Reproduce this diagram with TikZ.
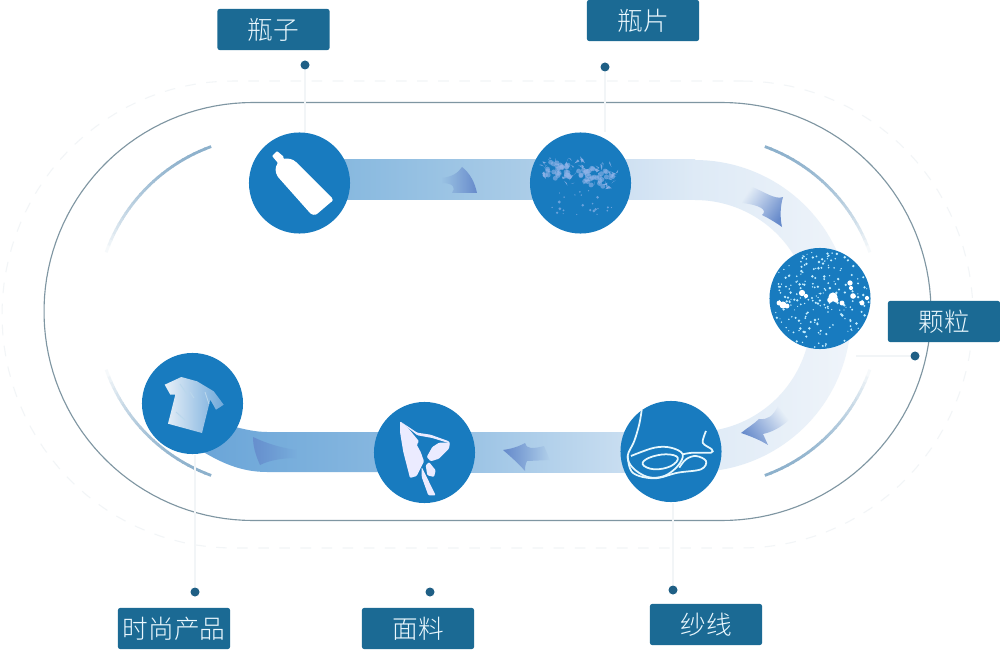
\documentclass[tikz,border=0pt]{standalone}
\usepackage{fontspec}
\usetikzlibrary{fadings}
\newfontfamily\cjk{Noto Sans CJK SC Light}
\definecolor{discblue}{HTML}{187BBF}
\definecolor{tagblue}{HTML}{1B6A94}
\definecolor{dotblue}{HTML}{1F5F85}
\definecolor{trackline}{HTML}{7F96A2}
\definecolor{faintline}{HTML}{F2F5F7}
\definecolor{arcblue}{HTML}{8DB1CC}
\definecolor{headblue}{HTML}{668ACB}
\definecolor{flakeblue}{HTML}{8FB3E8}
\definecolor{pelletblue}{HTML}{C4EEFF}
\definecolor{bandA}{RGB}{106,165,216}
\definecolor{bandB}{RGB}{141,187,225}
\definecolor{bandC}{RGB}{127,180,221}
\definecolor{bandD}{RGB}{181,210,234}
\definecolor{bandE}{RGB}{196,218,239}
\definecolor{bandF}{RGB}{222,234,246}
\definecolor{bandG}{RGB}{239,244,250}
\tikzset{
	stagedisc/.style={circle,fill=discblue,minimum size=1.01cm,inner sep=0pt},
	tagbox/.style={rectangle,rounded corners=0.6pt,fill=tagblue,text=white!92!cyan,minimum width=1.12cm,minimum height=0.41cm,inner sep=0pt,font=\fontsize{7.3pt}{8pt}\cjk},
	tagdot/.style={circle,fill=dotblue,minimum size=0.09cm,inner sep=0pt},
	leadline/.style={draw=faintline,line width=0.3pt},
	arcline/.style={line width=0.8pt},
	iconwhite/.style={fill=white!92!blue,rounded corners=0.3pt},
	yarn/.style={draw=white!90!cyan,line width=0.5pt}
}
\newcommand{\fadearc}[3]{%
	\foreach \t in {0,...,24}{
		\pgfmathsetmacro\angA{#2+(#3-#2)*\t/25}
		\pgfmathsetmacro\angB{#2+(#3-#2)*(\t+1.2)/25}
		\pgfmathsetmacro\mixv{max(3,100*(1-(\t/25)*(\t/25)))}
		\draw[arcline,draw=arcblue!\mixv!white] ({#1+175*cos(\angA)},{311-175*sin(\angA)}) -- ({#1+175*cos(\angB)},{311-175*sin(\angB)});
	}
}
\begin{document}
\begin{tikzpicture}[x=0.01cm,y=-0.01cm]
	\useasboundingbox (0,0) rectangle (1000,667);
	\fill[white] (0,0) rectangle (1000,667);
	\pgfmathsetseed{11}
	% faint outer track and the main track
	\draw[faintline,dashed,line width=0.3pt] plot[domain=90:-90,samples=60] ({742+231*cos(\x)},{314.5-233.5*sin(\x)}) -- plot[domain=270:90,samples=60] ({233+231*cos(\x)},{314.5-233.5*sin(\x)}) -- cycle;
	\draw[trackline,line width=0.32pt] plot[domain=90:-90,samples=70] ({722+209*cos(\x)},{311.5-209*sin(\x)}) -- plot[domain=270:90,samples=70] ({253+209*cos(\x)},{311.5-209*sin(\x)}) -- cycle;
	% four arcs inside the track
	\fadearc{705}{70}{20}
	\fadearc{705}{-70}{-20}
	\fadearc{271}{110}{160}
	\fadearc{271}{250}{200}
	% the band
	\shade[left color=bandC,right color=bandD] (300,160) rectangle (580,200);
	\shade[left color=bandE,right color=bandF] (580,160) rectangle (695,200);
	\shade[left color=bandF,right color=bandG] plot[domain=90:0,samples=40] ({695+156*cos(\x)},{316-156*sin(\x)}) -- plot[domain=0:90,samples=40] ({695+116*cos(\x)},{316-116*sin(\x)}) -- cycle;
	\shade[left color=bandF,right color=bandG] plot[domain=0:-90,samples=40] ({695+156*cos(\x)},{316-156*sin(\x)}) -- plot[domain=-90:0,samples=40] ({695+116*cos(\x)},{316-116*sin(\x)}) -- cycle;
	\shade[left color=bandB,right color=bandF] (424,432) rectangle (695,472);
	\shade[left color=bandA,right color=bandB] (200,420) .. controls (220,421) and (245,432) .. (267,432) -- (424,432) -- (424,472) -- (267,472) .. controls (240,472) and (220,462) .. (200,450) -- cycle;
	% arrows on the band
	\fill[headblue,path fading=west] (441,178) .. controls (452,177) and (458,173) .. (462,167) .. controls (470,173) and (475,183) .. (477,193) -- (452,193) .. controls (456,188) and (454,183) .. (441,183) -- cycle;
	\fill[headblue,path fading=west,fading angle=-35] (750,186) .. controls (765,192) and (775,200) .. (783,197) .. controls (780,207) and (780,218) .. (782,227) .. controls (775,222) and (768,218) .. (762,215) .. controls (768,210) and (760,205) .. (742,203) -- cycle;
	\fill[headblue,path fading=east,fading angle=32] (741,433) .. controls (747,428) and (754,424) .. (759,419) .. controls (768,420) and (773,416) .. (778,406) -- (789,420) .. controls (780,428) and (772,432) .. (763,434) -- (768,445) .. controls (760,440) and (750,436) .. (741,433) -- cycle;
	\fill[headblue,path fading=east] (503,450) .. controls (510,449) and (518,447) .. (525,443) .. controls (526,449) and (533,449) .. (544,446) -- (550,460) -- (527,461) .. controls (525,465) and (525,468) .. (525,471) .. controls (518,463) and (510,456) .. (503,450) -- cycle;
	\fill[headblue!80!bandA,path fading=east] (253,437) .. controls (262,441) and (275,447) .. (297,450) -- (297,458) .. controls (280,458) and (268,461) .. (260,465) .. controls (256,456) and (253,447) .. (253,437) -- cycle;
	% stages
	\node[stagedisc] (bottle) at (299.5,183) {};
	\node[stagedisc] (flakes) at (580.5,183) {};
	\node[stagedisc] (pellets) at (820,298.5) {};
	\node[stagedisc] (thread) at (671,451.5) {};
	\node[stagedisc] (cloth) at (424.5,452.5) {};
	\node[stagedisc] (shirt) at (192.5,403.5) {};
	% tags and dots
	\node[tagbox] (tagbottle) at (273.5,29.5) {瓶子};
	\node[tagbox] (tagflakes) at (643,20.5) {瓶片};
	\node[tagbox] (tagpellets) at (944,321.5) {颗粒};
	\node[tagbox] (tagthread) at (706,624.5) {纱线};
	\node[tagbox] (tagcloth) at (418,628.5) {面料};
	\node[tagbox] (tagshirt) at (174,628.5) {时尚产品};
	\node[tagdot] (dotbottle) at (305,65) {};
	\node[tagdot] (dotflakes) at (605,67) {};
	\node[tagdot] (dotpellets) at (915,356) {};
	\node[tagdot] (dotthread) at (673,590) {};
	\node[tagdot] (dotcloth) at (430,592) {};
	\node[tagdot] (dotshirt) at (195,592) {};
	\draw[leadline] (dotbottle) -- (dotbottle |- bottle.north);
	\draw[leadline] (dotflakes) -- (dotflakes |- flakes.north);
	\draw[leadline] (dotpellets) -- (pellets.south east |- dotpellets);
	\draw[leadline] (dotthread) -- (dotthread |- thread.south);
	\draw[leadline] (dotshirt) -- (dotshirt |- shirt.south);
	% bottle
	\fill[iconwhite,fill=white] (272,156) -- (277,151) -- (284,157) -- (283,159) .. controls (288,158) and (293,159) .. (297,163) -- (331,197) .. controls (333,199) and (333,201) .. (331,202) -- (317,214) .. controls (315,215) and (312,215) .. (310,213) -- (278,177) .. controls (275,172) and (275,167) .. (278,163) -- cycle;
	% flakes
	\foreach \i in {1,...,60}{
		\pgfmathsetmacro\fx{545+70*rnd}
		\pgfmathsetmacro\fy{160+18*rnd+(\fx-545)/70*12}
		\fill[flakeblue,fill opacity=0.6] (\fx,\fy) circle[radius=0.7pt];
	}
	\foreach \i in {1,...,70}{
		\pgfmathsetmacro\fx{543+75*rnd}
		\pgfmathsetmacro\fy{156+22*rnd+(\fx-543)/75*12}
		\pgfmathsetmacro\dxa{7*rnd-3.5}
		\pgfmathsetmacro\dya{9*rnd-4.5}
		\pgfmathsetmacro\dxb{7*rnd-3.5}
		\pgfmathsetmacro\dyb{7*rnd-3.5}
		\fill[flakeblue,fill opacity=0.85] (\fx,\fy) -- ++(\dxa,\dya) -- ++(\dxb,\dyb) -- cycle;
	}
	\foreach \i in {1,...,24}{
		\pgfmathsetmacro\fx{548+64*rnd}
		\pgfmathsetmacro\fy{190+26*rnd}
		\pgfmathsetmacro\szf{0.15+0.3*rnd}
		\fill[flakeblue!70!discblue] (\fx,\fy) circle[radius=\szf pt];
	}
	% pellets
	\foreach \i in {1,...,210}{
		\pgfmathsetmacro\ang{360*rnd}
		\pgfmathsetmacro\rad{49*sqrt(rnd)}
		\pgfmathsetmacro\sz{0.16+0.24*rnd}
		\fill[pelletblue] ({820+\rad*cos(\ang)},{298.5-\rad*sin(\ang)}) circle[radius=\sz pt];
	}
	\foreach \bx/\by/\bs in {783/305/1.0,779/303/.7,787/306/.7,802/293/.9,806/296/.6,833/297/1.3,830/300/.8,836/300/.7,850/283/.75,851/288/.6,853/296/.8,842/303/.7,862/303/.7,867/298/.6}
		\fill[white] (\bx,\by) circle[radius=\bs pt];
	% thread
	\draw[yarn] plot[smooth,tension=0.6] coordinates {(641.7,410) (639.3,424) (634.3,441) (627.7,456) (632.7,467.7) (647.7,477) (664.3,476) (677.7,466) (682.7,454.3) (671,447.7) (654.3,447.7) (631,456)};
	\draw[yarn] plot[smooth cycle,tension=0.7] coordinates {(642.7,464.3) (649.3,457.7) (666,454.3) (677.7,457.7) (671,466) (654.3,469.3)};
	\draw[yarn] plot[smooth,tension=0.6] coordinates {(627.7,456) (632.7,472.7) (654.3,478.3) (677.7,472.7) (701,469.3) (706,461) (696,456) (686,459.3) (679.3,467.7)};
	\draw[yarn] plot[smooth,tension=0.5] coordinates {(682.7,454.3) (692.7,452.7) (711,452.7) (711.7,449.3) (702.7,442.7) (706,431)};
	% cloth
	\fill[iconwhite] (400,421.3) -- (407.3,427) -- (419,441.3) -- (416.7,444.7) -- (420.7,452) -- (424,461.3) -- (416.7,476) -- (410,478) -- (403.3,452) -- (400,432) -- cycle;
	\fill[iconwhite] (400,421.3) -- (417.3,432.7) -- (430.7,434.7) -- (449,441.3) -- (450,443.5) -- (432.3,438) -- (417.3,435.3) -- cycle;
	\fill[iconwhite] (450,442.7) -- (449,448.7) -- (439,458.7) -- (430.7,461.3) -- (426.7,457) -- (432.3,447) -- (439,442.7) -- cycle;
	\fill[iconwhite] (429,462) -- (435.7,470.3) -- (434,477) -- (427.3,475.3) -- (425.7,465.3) -- cycle;
	\fill[iconwhite] (421.7,467) -- (435.7,495.3) -- (428.3,495.3) -- (421.7,477) -- cycle;
	% shirt
	\shade[left color={rgb,255:red,232;green,240;blue,248},right color={rgb,255:red,110;green,168;blue,218}] (164.7,384.7) -- (181.3,377) -- (197,381.3) -- (213.7,391.3) -- (223.7,404.7) -- (216,409.7) -- (210.3,399.7) -- (202,433) -- (168,423.7) -- (175.3,394.7) -- (170.3,394.7) -- cycle;
	\draw[discblue!30!white,line width=0.25pt] (180,384) -- (187,394) (190,392) -- (194,398) (176,412) -- (185,420) (205,392) -- (209,404);
\end{tikzpicture}
\end{document}
